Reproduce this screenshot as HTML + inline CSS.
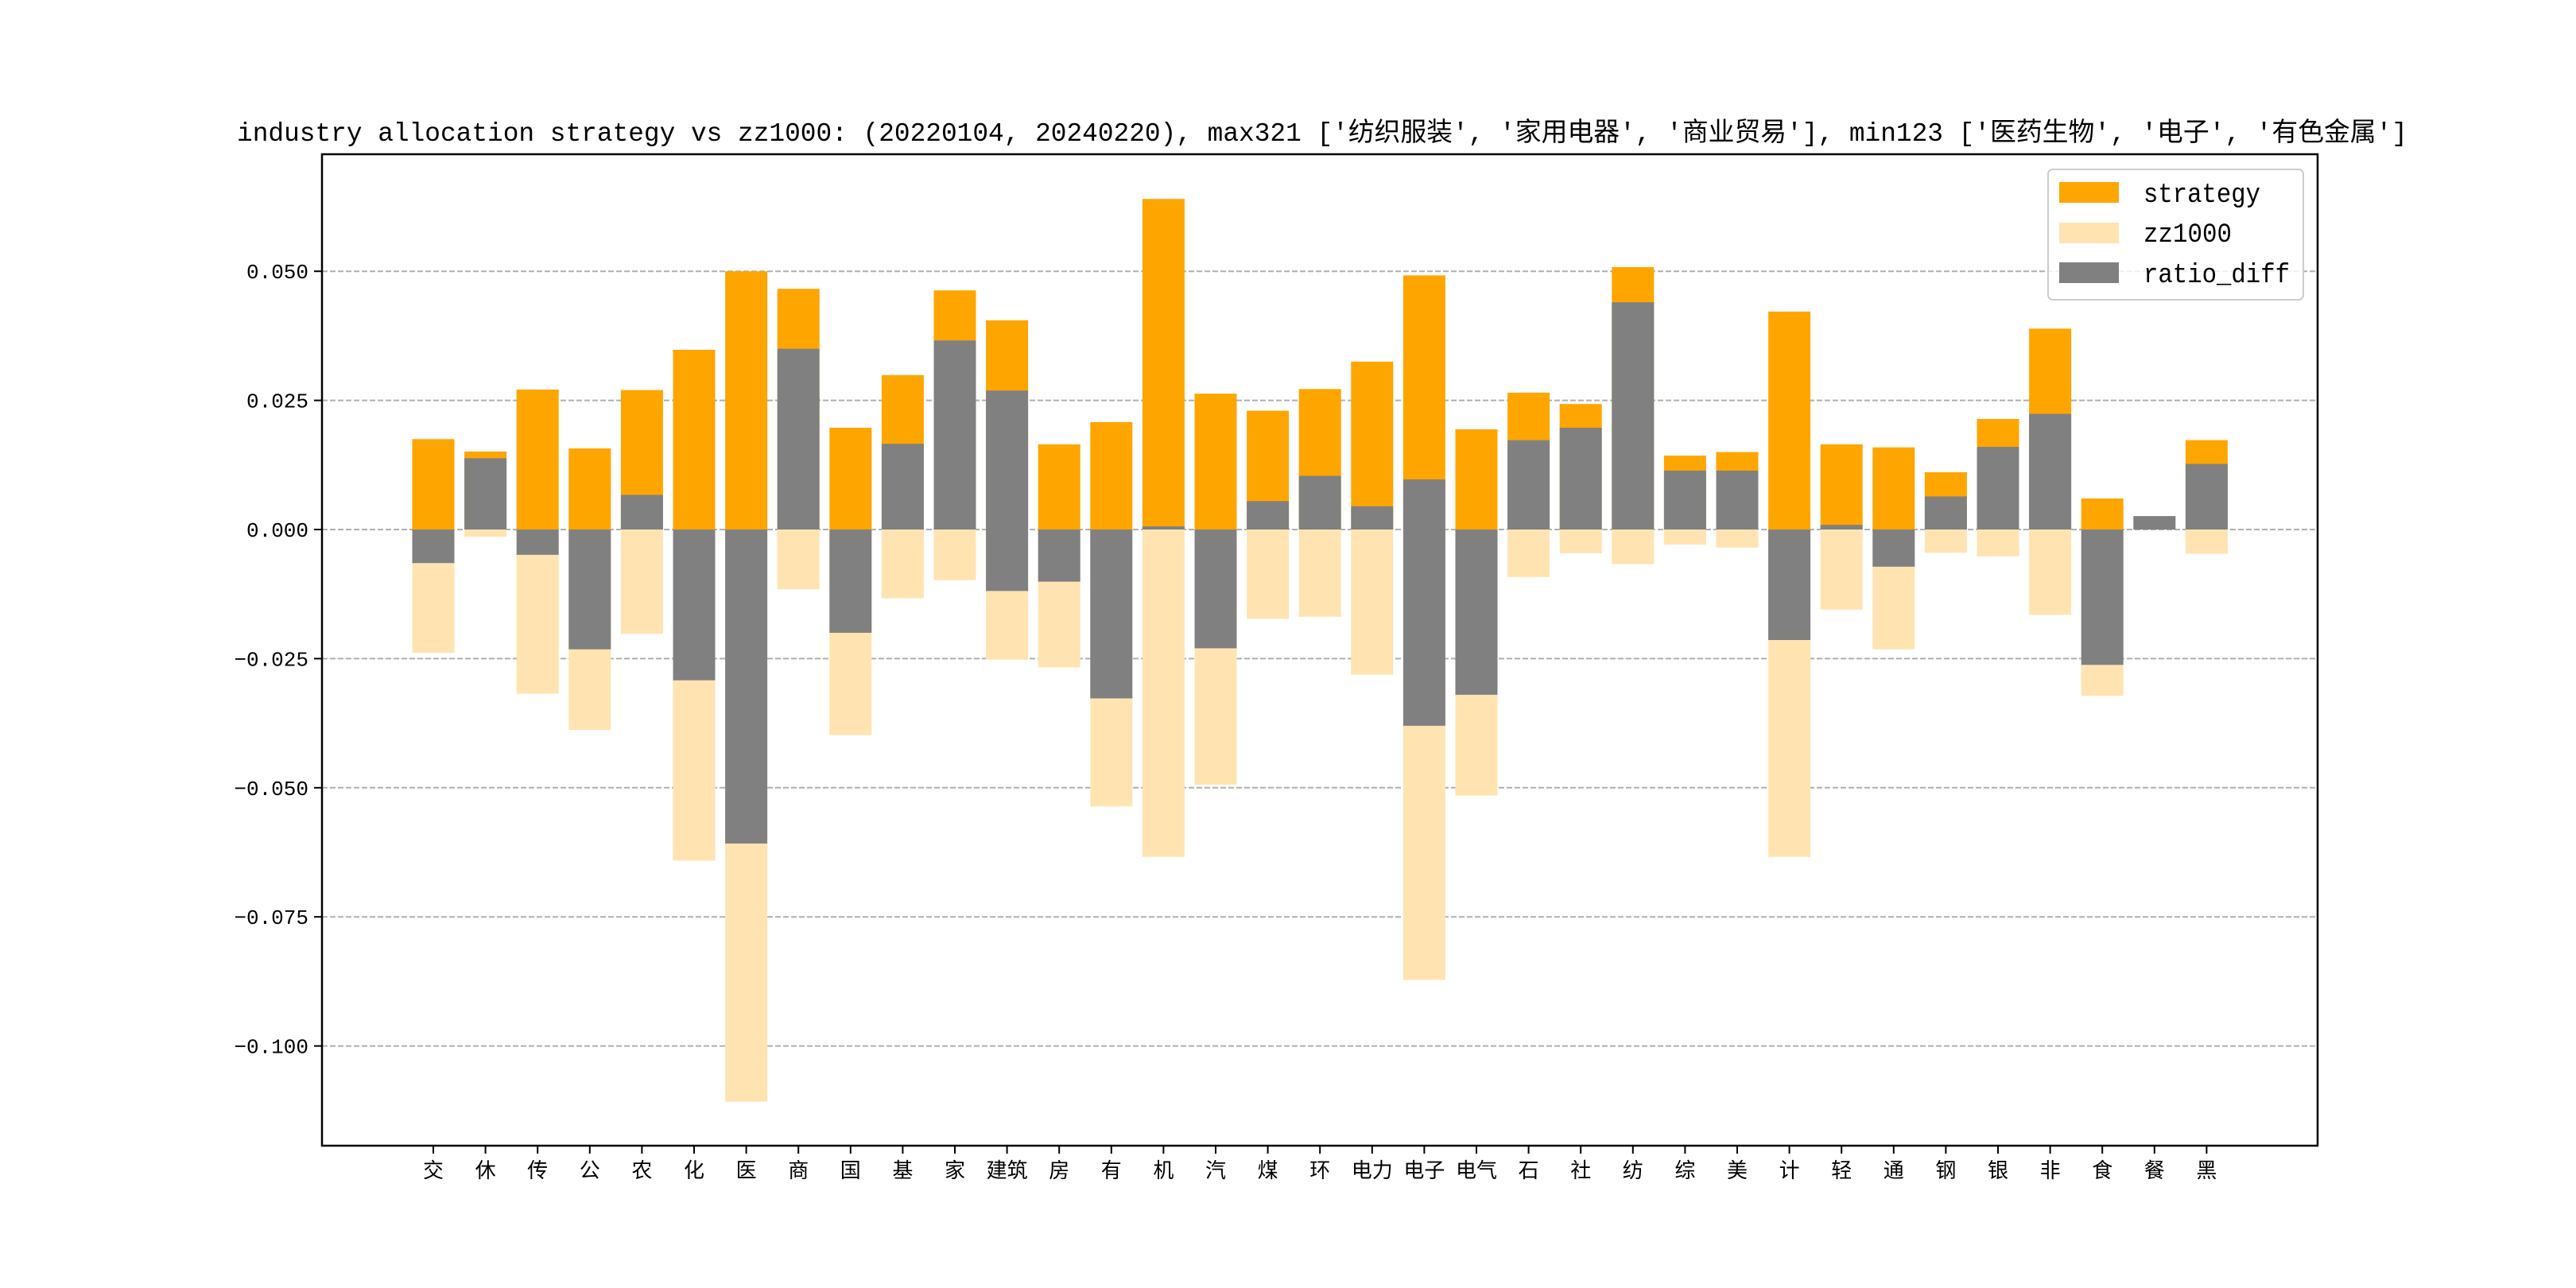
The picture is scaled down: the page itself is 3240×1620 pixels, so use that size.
<!DOCTYPE html>
<html><head><meta charset="utf-8"><style>
html,body{margin:0;padding:0;background:#fff;}
svg{display:block;}
text{font-family:"Liberation Mono","Noto Sans CJK SC",monospace;fill:#000;}
</style></head>
<body>
<svg id="chart" width="3240" height="1620" viewBox="0 0 3240 1620" xmlns="http://www.w3.org/2000/svg">
<rect width="3240" height="1620" fill="#fff"/>
<text x="298" y="177" font-size="33" textLength="2730" lengthAdjust="spacingAndGlyphs">industry allocation strategy vs zz1000: (20220104, 20240220), max321 ['纺织服装', '家用电器', '商业贸易'], min123 ['医药生物', '电子', '有色金属']</text>
<g id="grid"></g>
<g id="bars"></g>
<g id="axes"></g>
<g id="legend">
<rect x="2576" y="213" width="321" height="164" rx="6" fill="#fff" fill-opacity="0.8" stroke="#ccc" stroke-width="2"/>
<rect x="2590" y="229" width="75" height="26" fill="#FFA500"/>
<text x="2696" y="254" font-size="34" textLength="147" lengthAdjust="spacingAndGlyphs">strategy</text>
<rect x="2590" y="280" width="75" height="26" fill="#FFE4B2"/>
<text x="2696" y="304" font-size="34" textLength="111" lengthAdjust="spacingAndGlyphs">zz1000</text>
<rect x="2590" y="330" width="75" height="26" fill="#808080"/>
<text x="2696" y="355" font-size="34" textLength="184" lengthAdjust="spacingAndGlyphs">ratio_diff</text>
</g>
</svg>
<script>
const categories = ['交','休','传','公','农','化','医','商','国','基','家','建筑','房','有','机','汽','煤','环','电力','电子','电气','石','社','纺','综','美','计','轻','通','钢','银','非','食','餐','黑'];
const strategy = [0.0175,0.0151,0.0271,0.0157,0.0270,0.0348,0.0500,0.0466,0.0197,0.0299,0.0463,0.0405,0.0165,0.0208,0.0640,0.0263,0.0230,0.0272,0.0325,0.0492,0.0194,0.0265,0.0243,0.0508,0.0143,0.0150,0.0422,0.0165,0.0159,0.0111,0.0214,0.0389,0.0060,0.0000,0.0173];
const zz1000 = [0.0239,0.0014,0.0318,0.0388,0.0202,0.0641,0.1108,0.0116,0.0398,0.0133,0.0098,0.0252,0.0267,0.0536,0.0634,0.0494,0.0173,0.0169,0.0281,0.0872,0.0515,0.0092,0.0046,0.0067,0.0029,0.0035,0.0634,0.0155,0.0232,0.0045,0.0052,0.0165,0.0322,0.0000,0.0047];
const diffTop = [0,0.0138,0,0,0.0067,0,0,0.0350,0,0.0166,0.0366,0.0269,0,0,0.0006,0,0.0055,0.0104,0.0045,0.0097,0,0.0173,0.0197,0.0440,0.0114,0.0114,0,0.0009,0,0.0064,0.0160,0.0224,0,0.0026,0.0127];
const diffBottom = [-0.0065,0,-0.0049,-0.0232,0,-0.0292,-0.0608,0,-0.0200,0,0,-0.0119,-0.0101,-0.0327,0,-0.0230,0,0,0,-0.0380,-0.0320,0,0,0,0,0,-0.0214,0,-0.0072,0,0,0,-0.0262,0,0];
const yTicks = [0.05,0.025,0,-0.025,-0.05,-0.075,-0.1];
const yTickLabels = ['0.050','0.025','0.000','\u22120.025','\u22120.050','\u22120.075','\u22120.100'];

const NS='http://www.w3.org/2000/svg';
const L=405,R=2915,T=194,B=1441;
function y(v){return 666 - v*(162.4/0.025);}
function x(i){return 545 + i*65.6;}
const bw=53;
function mk(tag,attrs,parent){const e=document.createElementNS(NS,tag);for(const k in attrs)e.setAttribute(k,attrs[k]);parent.appendChild(e);return e;}
const grid=document.getElementById('grid'),bars=document.getElementById('bars'),axes=document.getElementById('axes');
yTicks.forEach((v,i)=>{
  const g=mk('line',{x1:L,x2:R,y1:y(v),y2:y(v),stroke:'#b0b0b0','stroke-width':2,'stroke-dasharray':'7,3'},grid);
  
  
  const t=mk('line',{x1:L-10,x2:L,y1:y(v),y2:y(v),stroke:'#000','stroke-width':2},axes);
  
  
  const tx=mk('text',{x:388,y:y(v)+9,'font-size':26,'text-anchor':'end'},axes);
  tx.textContent=yTickLabels[i];
  
  
});
categories.forEach((c,i)=>{
  const cx=x(i);
  const s=mk('rect',{x:cx-bw/2,y:y(strategy[i]),width:bw,height:Math.max(0,y(0)-y(strategy[i])),fill:'#FFA500'},bars);
  
  
  const z=mk('rect',{x:cx-bw/2,y:y(0),width:bw,height:Math.max(0,y(-zz1000[i])-y(0)),fill:'#FFE4B2'},bars);
  
  
  const d=mk('rect',{x:cx-bw/2,y:y(diffTop[i]),width:bw,height:Math.max(0,y(diffBottom[i])-y(diffTop[i])),fill:'#808080'},bars);
  
  
  const t=mk('line',{x1:cx,x2:cx,y1:B,y2:B+10,stroke:'#000','stroke-width':2},axes);
  
  
  const tx=mk('text',{x:cx,y:1481,'font-size':26,'text-anchor':'middle'},axes);
  tx.textContent=c;
  
  
});
const fr=mk('rect',{x:L,y:T,width:R-L,height:B-T,fill:'none',stroke:'#000','stroke-width':2.5},axes);


</script>
</body></html>
